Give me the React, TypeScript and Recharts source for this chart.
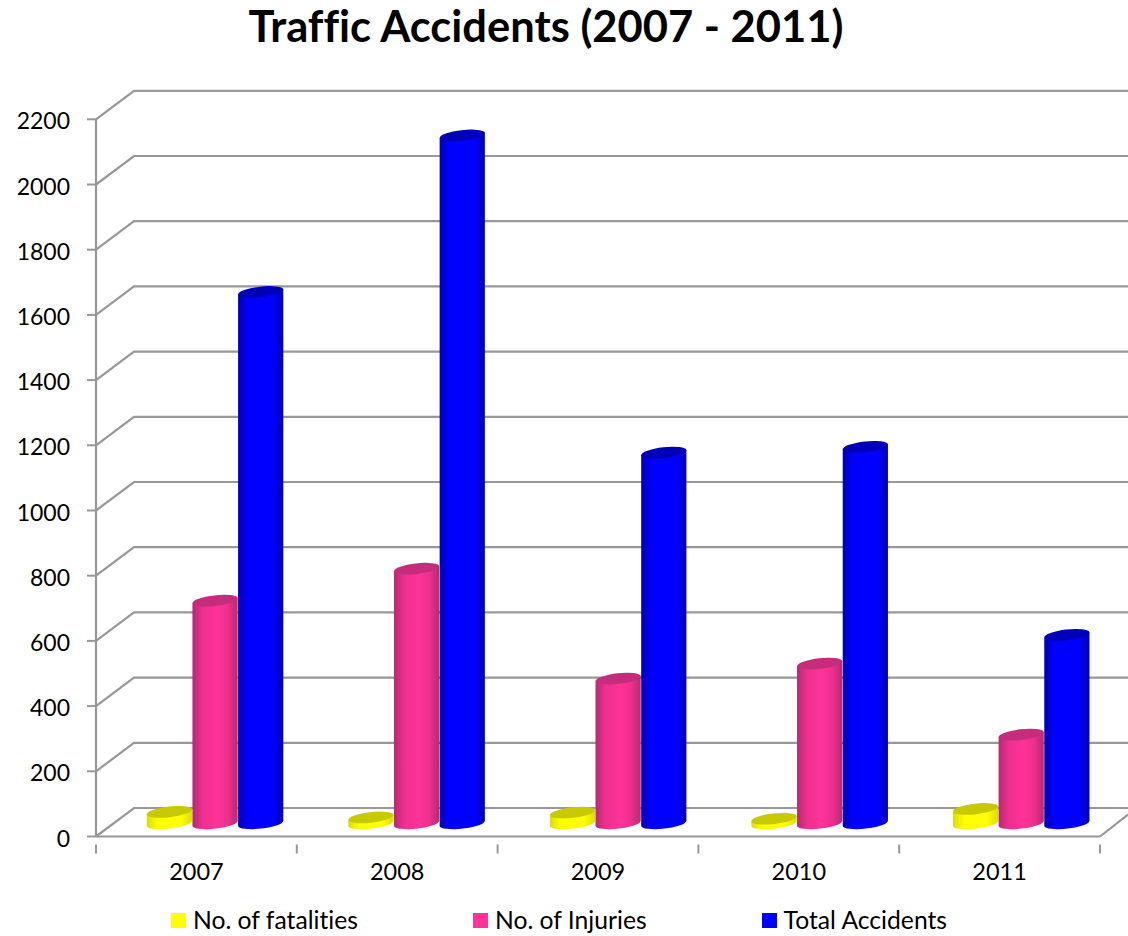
import { BarChart, Bar, XAxis, YAxis, CartesianGrid, Legend } from "recharts";

const YEARS = ["2007", "2008", "2009", "2010", "2011"];
const FATALITIES = [35, 18, 33, 14, 44];
const INJURIES = [683, 781, 444, 490, 272];
const TOTALS = [1630, 2110, 1137, 1155, 578];
const Y_TICKS = [0, 200, 400, 600, 800, 1000, 1200, 1400, 1600, 1800, 2000, 2200];

const DATA = YEARS.map((year, i) => ({
  year,
  fatalities: FATALITIES[i],
  injuries: INJURIES[i],
  total: TOTALS[i],
}));

const FONT = "Lato, sans-serif";
const GRID = "#989898";
const W = 1128;
const H = 936;
const PLOT_LEFT = 96;
const PLOT_RIGHT = 1100;
const PLOT_TOP = 119.3;
const PLOT_BOTTOM = 836.5;
const BAND = (PLOT_RIGHT - PLOT_LEFT) / YEARS.length;

// fake 3d: how far the back wall sits from the front axes
const DEPTH_X = 38;
const DEPTH_Y = 28.5;
// bars stand halfway into the floor, spread a touch wider than the front axis
const BAR_DX = 18.5;
const BAR_DY = 13.2;
const BAR_SPREAD = 0.0037;
const TILT = -6.5;

const Cylinder = (props: any) => {
  const { x, y, width, height, side, cap } = props;
  const rx = width / 2;
  const ry = 5.3;
  const cx = x + rx + BAR_DX + (x - PLOT_LEFT) * BAR_SPREAD;
  const top = y - BAR_DY;
  const bottom = y + height - BAR_DY;
  const a = (TILT * Math.PI) / 180;
  const ex = rx * Math.cos(a);
  const ey = rx * Math.sin(a);
  const body = [
    `M${cx - ex},${top - ey}`,
    `L${cx - ex},${bottom - ey}`,
    `A${rx},${ry} ${TILT} 0 0 ${cx + ex},${bottom + ey}`,
    `L${cx + ex},${top + ey}`,
    "Z",
  ].join(" ");
  return (
    <g>
      <path d={body} fill={side} />
      <ellipse cx={cx} cy={top} rx={rx} ry={ry} fill={cap} transform={`rotate(${TILT} ${cx} ${top})`} />
    </g>
  );
};

// gridlines run from the front axis back to the wall, then across it
const wallLine = (props: any) => {
  const { x1, x2, y1, index } = props;
  const isFloor = Math.abs(y1 - PLOT_BOTTOM) < 1;
  const d = `M${x1},${y1} L${x1 + DEPTH_X},${y1 - DEPTH_Y} L${W},${y1 - DEPTH_Y}`;
  return (
    <g key={`wall-${index}`}>
      <path d={d} fill="none" stroke={GRID} strokeWidth={2.2} />
      {isFloor && <path d={`M${x2},${y1} L${W},${y1 - 22}`} fill="none" stroke={GRID} strokeWidth={2.2} />}
    </g>
  );
};

const YearTick = (props: any) => {
  const { x, y, index, payload } = props;
  const left = x - BAND / 2;
  return (
    <g>
      <line x1={left} x2={left} y1={y} y2={y + 9} stroke={GRID} strokeWidth={2} />
      {index === YEARS.length - 1 && (
        <line x1={left + BAND} x2={left + BAND} y1={y} y2={y + 9} stroke={GRID} strokeWidth={2} />
      )}
      <text x={x} y={880} textAnchor="middle" fontFamily={FONT} fontSize={23.5} fill="#000">
        {payload.value}
      </text>
    </g>
  );
};

const LegendRow = ({ payload }: any) => (
  <div
    style={{
      display: "flex",
      gap: 115,
      fontFamily: FONT,
      fontSize: 24.7,
      color: "#000",
      lineHeight: "30px",
      fontVariantLigatures: "none",
    }}
  >
    {payload.map((item: any) => (
      <div key={item.value} style={{ display: "flex", alignItems: "center", gap: 7, whiteSpace: "nowrap" }}>
        <span style={{ width: 15, height: 15, background: item.color, display: "inline-block" }} />
        {item.value}
      </div>
    ))}
  </div>
);

export default function App() {
  return (
    <div style={{ position: "absolute", left: 0, top: 0, width: W, height: H, background: "#fff" }}>
      <BarChart
        width={W}
        height={H}
        data={DATA}
        barSize={45.5}
        barGap={0}
        margin={{ top: PLOT_TOP, right: W - PLOT_RIGHT, bottom: 0, left: 0 }}
      >
        <defs>
          <linearGradient id="sideYellow" x1="0" x2="1" y1="0" y2="0">
            <stop offset="0" stopColor="#dcdc00" />
            <stop offset="0.25" stopColor="#ffff00" />
            <stop offset="0.75" stopColor="#ffff00" />
            <stop offset="1" stopColor="#dcdc00" />
          </linearGradient>
          <linearGradient id="sidePink" x1="0" x2="1" y1="0" y2="0">
            <stop offset="0" stopColor="#b52a74" />
            <stop offset="0.22" stopColor="#ee2f8e" />
            <stop offset="0.55" stopColor="#ff3399" />
            <stop offset="0.78" stopColor="#ee2f8e" />
            <stop offset="1" stopColor="#b52a74" />
          </linearGradient>
          <linearGradient id="sideBlue" x1="0" x2="1" y1="0" y2="0">
            <stop offset="0" stopColor="#0000b0" />
            <stop offset="0.22" stopColor="#0000ff" />
            <stop offset="0.78" stopColor="#0000ff" />
            <stop offset="1" stopColor="#0000b0" />
          </linearGradient>
        </defs>
        <text
          x={546}
          y={42}
          textAnchor="middle"
          fontFamily={FONT}
          fontWeight={700}
          fontSize={43.5}
          fill="#000"
          style={{ fontVariantLigatures: "none" }}
        >
          Traffic Accidents (2007 - 2011)
        </text>
        <CartesianGrid vertical={false} horizontal={wallLine} />
        <XAxis
          dataKey="year"
          height={H - PLOT_BOTTOM}
          interval={0}
          axisLine={{ stroke: GRID, strokeWidth: 2.2 }}
          tickLine={false}
          tick={YearTick}
        />
        <YAxis
          width={PLOT_LEFT}
          domain={[0, 2200]}
          ticks={Y_TICKS}
          interval={0}
          axisLine={{ stroke: GRID, strokeWidth: 2.2 }}
          tickLine={{ stroke: GRID, strokeWidth: 2 }}
          tickSize={9}
          tickMargin={17}
          tick={{ fontFamily: FONT, fontSize: 23, fill: "#000", dy: 2 }}
        />
        <Legend
          verticalAlign="middle"
          itemSorter="dataKey"
          content={LegendRow}
          wrapperStyle={{ top: 905, left: 171, width: "auto" }}
        />
        <Bar
          dataKey="fatalities"
          name="No. of fatalities"
          fill="#ffff00"
          isAnimationActive={false}
          shape={(p: any) => <Cylinder {...p} side="url(#sideYellow)" cap="#c9c900" />}
        />
        <Bar
          dataKey="injuries"
          name="No. of Injuries"
          fill="#ff3399"
          isAnimationActive={false}
          shape={(p: any) => <Cylinder {...p} side="url(#sidePink)" cap="#c62c7c" />}
        />
        <Bar
          dataKey="total"
          name="Total Accidents"
          fill="#0000ff"
          isAnimationActive={false}
          shape={(p: any) => <Cylinder {...p} side="url(#sideBlue)" cap="#0000b8" />}
        />
      </BarChart>
    </div>
  );
}
